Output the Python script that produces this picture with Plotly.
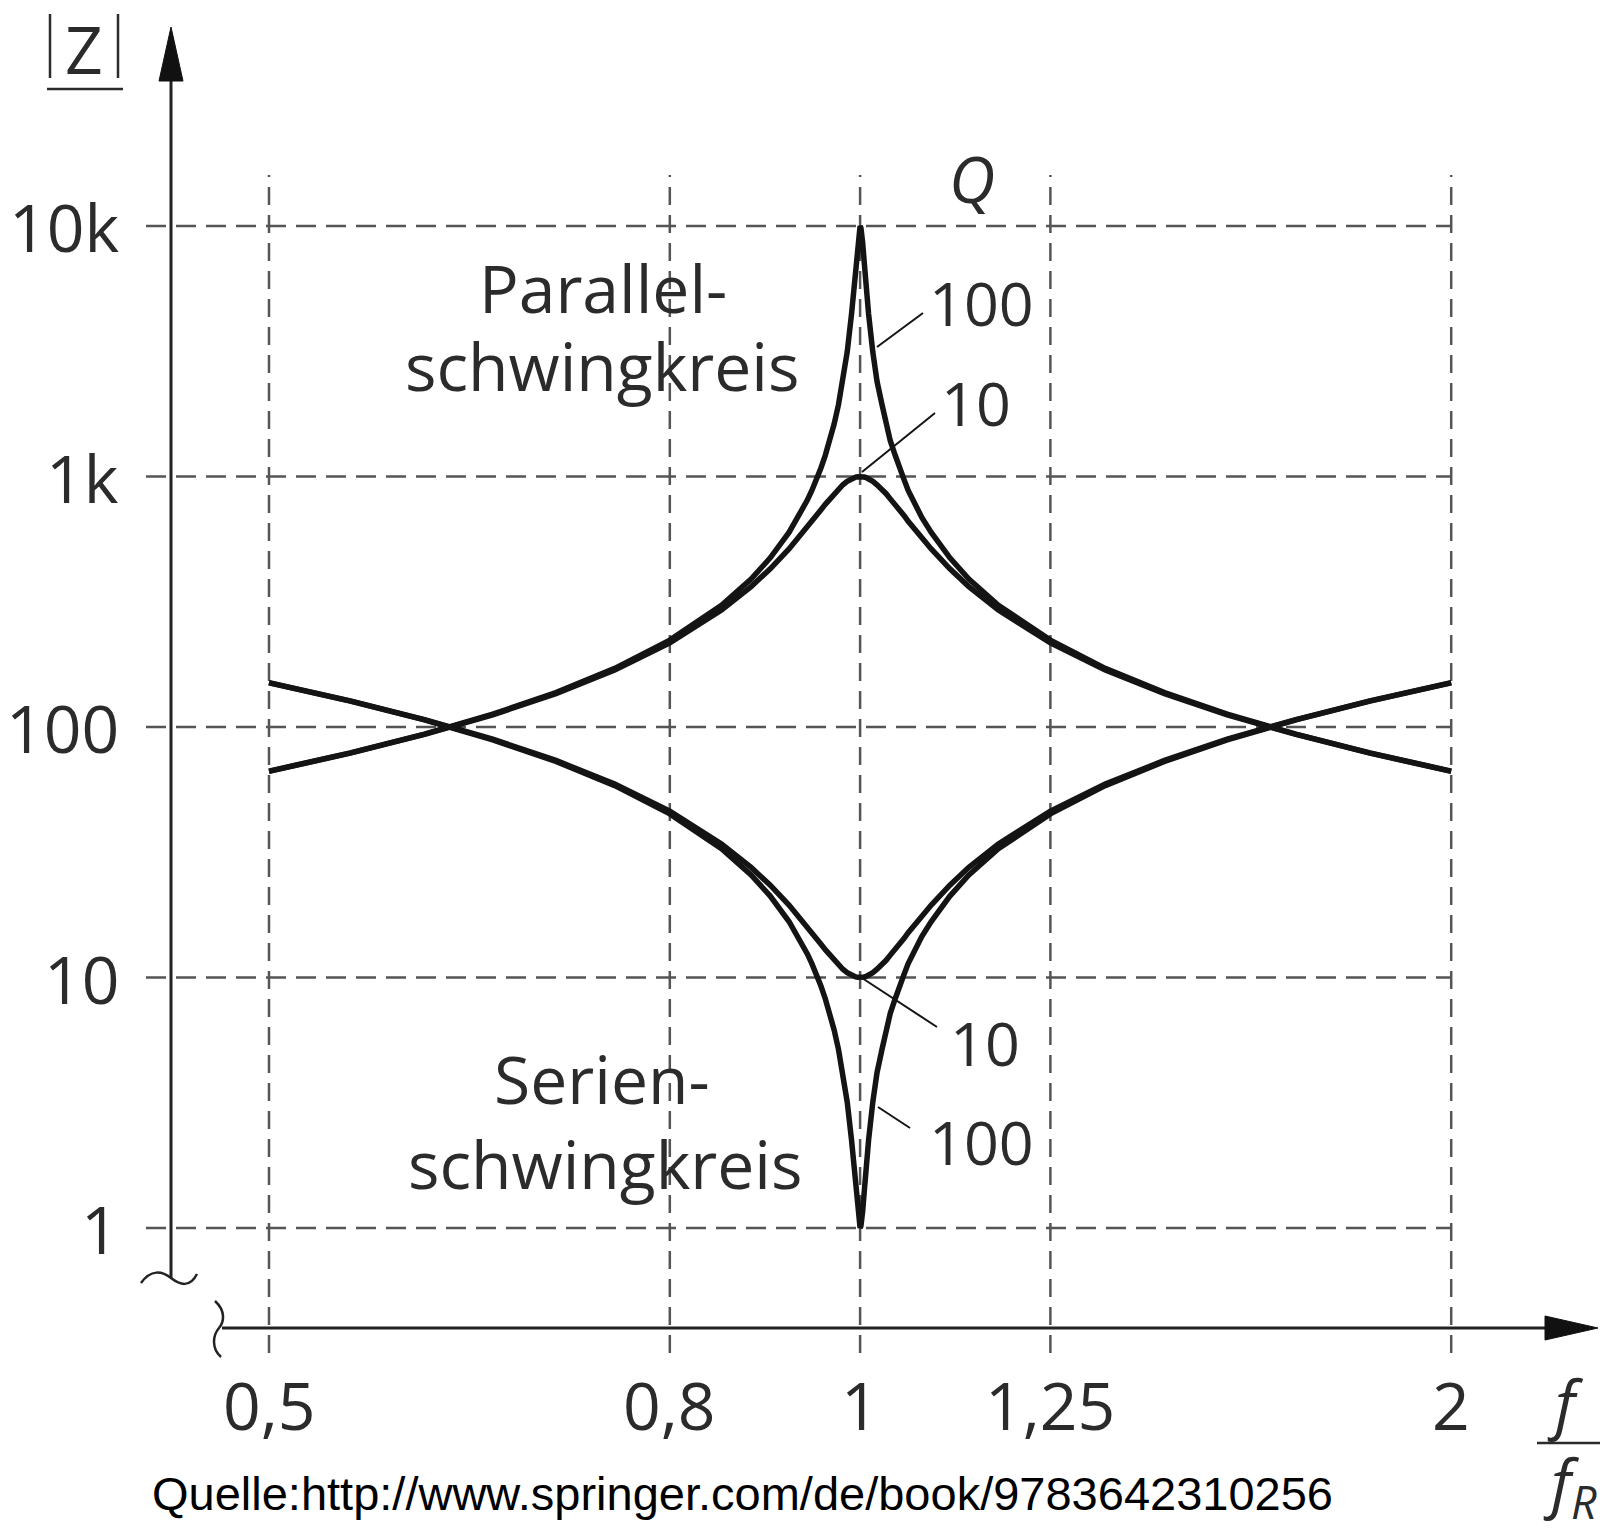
import math
import plotly.graph_objects as go

# ---------------- data ----------------
x_vals = [0.5, 0.55, 0.6, 0.65, 0.7, 0.75, 0.8, 0.85, 0.88, 0.9,
          0.92, 0.93, 0.94, 0.945, 0.95, 0.955, 0.96, 0.965, 0.97, 0.975,
          0.98, 0.985, 0.99, 0.993, 0.995, 0.997, 0.998, 0.999, 1.0,
          1.001, 1.002, 1.003, 1.005, 1.007, 1.01, 1.015, 1.02, 1.026, 1.031,
          1.036, 1.042, 1.047, 1.053, 1.058, 1.064, 1.075, 1.087, 1.111, 1.136,
          1.176, 1.25, 1.333, 1.429, 1.538, 1.667, 1.818, 2.0]

z_parallel_q100 = [66.67, 78.86, 93.72, 112.5, 137.2, 171.4, 222.2, 306.2, 389.8, 473.3,
                   597.9, 686.8, 804.9, 880.0, 969.8, 1079, 1215, 1389, 1619, 1937,
                   2402, 3141, 4454, 5799, 7062, 8571, 9285, 9806, 10000,
                   9806, 9285, 8571, 7062, 5799, 4454, 3141, 2402, 1937, 1619,
                   1389, 1215, 1079, 969.8, 880.0, 804.9, 686.8, 597.9, 473.3, 389.8,
                   306.2, 222.2, 171.4, 137.2, 112.5, 93.72, 78.86, 66.67]

z_parallel_q10 = [66.53, 78.62, 93.37, 111.8, 136.0, 169.0, 216.9, 292.9, 363.4, 428.1,
                  513.8, 566.9, 628.2, 662.1, 697.8, 735.5, 774.6, 814.3, 854.0, 892.1,
                  926.8, 957.0, 980.4, 990.3, 995.0, 998.2, 999.2, 999.8, 1000,
                  999.8, 999.2, 998.2, 995.0, 990.3, 980.4, 957.0, 926.8, 892.1, 854.0,
                  814.3, 774.6, 735.5, 697.8, 662.1, 628.2, 566.9, 513.8, 428.1, 363.4,
                  292.9, 216.9, 169.0, 136.0, 111.8, 93.37, 78.62, 66.53]

z_series_q100 = [150.0, 126.8, 106.7, 88.86, 72.87, 58.34, 45.01, 32.66, 25.66, 21.13,
                 16.73, 14.56, 12.42, 11.36, 10.31, 9.266, 8.228, 7.197, 6.175, 5.162,
                 4.163, 3.184, 2.245, 1.724, 1.416, 1.167, 1.077, 1.020, 1.000,
                 1.020, 1.077, 1.167, 1.416, 1.724, 2.245, 3.184, 4.163, 5.162, 6.175,
                 7.197, 8.228, 9.266, 10.31, 11.36, 12.42, 14.56, 16.73, 21.13, 25.66,
                 32.66, 45.01, 58.34, 72.87, 88.86, 106.7, 126.8, 150.0]

z_series_q10 = [150.3, 127.2, 107.1, 89.41, 73.54, 59.18, 46.10, 34.14, 27.52, 23.36,
                19.46, 17.64, 15.92, 15.10, 14.33, 13.60, 12.91, 12.28, 11.71, 11.21,
                10.79, 10.45, 10.20, 10.10, 10.05, 10.02, 10.01, 10.00, 10.00,
                10.00, 10.01, 10.02, 10.05, 10.10, 10.20, 10.45, 10.79, 11.21, 11.71,
                12.28, 12.91, 13.60, 14.33, 15.10, 15.92, 17.64, 19.46, 23.36, 27.52,
                34.14, 46.10, 59.18, 73.54, 89.41, 107.1, 127.2, 150.3]

x_ticks = [0.5, 0.8, 1.0, 1.25, 2.0]
x_tick_labels = ["0,5", "0,8", "1", "1,25", "2"]
y_ticks = [1, 10, 100, 1000, 10000]
y_tick_labels = ["1", "10", "100", "1k", "10k"]

# ---------------- layout geometry ----------------
W, H = 1605, 1533
ML, MR, MT, MB = 140, 5, 20, 173
XR = [-0.366726, 0.376807]
YR = [-0.52695, 4.82236]
PW, PH = W - ML - MR, H - MT - MB


def px(x):
    return (x - ML) / PW


def py(y):
    return (H - MB - y) / PH


def xp(v):
    return (math.log10(v) - XR[0]) / (XR[1] - XR[0])


FONT = "Open Sans"
TXT = "#2b2b2b"
GRID = "#555555"
AX = "#222222"
CURVE = "#141414"

fig = go.Figure()
for ys in [z_parallel_q100, z_parallel_q10, z_series_q100, z_series_q10]:
    fig.add_trace(go.Scatter(x=x_vals, y=ys, mode="lines",
                             line=dict(color=CURVE, width=5.5),
                             showlegend=False, hoverinfo="skip"))

shapes = []
# dashed grid lines
for xv in x_ticks:
    shapes.append(dict(type="line", xref="x", yref="paper", x0=xv, x1=xv,
                       y0=py(1353), y1=py(175), layer="below",
                       line=dict(color=GRID, width=2.5, dash="18px,10px")))
for yv in y_ticks:
    shapes.append(dict(type="line", xref="paper", yref="y", x0=px(146), x1=xp(x_ticks[-1]),
                       y0=yv, y1=yv, layer="below",
                       line=dict(color=GRID, width=2.5, dash="20px,10px")))

# axes
shapes.append(dict(type="line", xref="paper", yref="paper", x0=px(171), x1=px(171),
                   y0=py(1278), y1=py(75), line=dict(color=AX, width=3)))
shapes.append(dict(type="line", xref="paper", yref="paper", x0=px(222), x1=px(1550),
                   y0=py(1328), y1=py(1328), line=dict(color=AX, width=3)))

# arrow heads
shapes.append(dict(type="path", xref="paper", yref="paper",
                   path=f"M {px(171)} {py(27)} L {px(159)} {py(81)} L {px(183)} {py(81)} Z",
                   fillcolor="#111111", line=dict(color="#111111", width=1)))
shapes.append(dict(type="path", xref="paper", yref="paper",
                   path=f"M {px(1598)} {py(1328)} L {px(1545)} {py(1316)} L {px(1545)} {py(1340)} Z",
                   fillcolor="#111111", line=dict(color="#111111", width=1)))

# axis break marks
shapes.append(dict(type="path", xref="paper", yref="paper",
                   path=(f"M {px(141)} {py(1283)} C {px(151)} {py(1269)} {px(162)} {py(1271)} {px(171)} {py(1278)} "
                         f"C {px(180)} {py(1285)} {px(190)} {py(1288)} {px(197)} {py(1274)}"),
                   line=dict(color=AX, width=2.5)))
shapes.append(dict(type="path", xref="paper", yref="paper",
                   path=(f"M {px(215)} {py(1301)} C {px(226)} {py(1311)} {px(224)} {py(1322)} {px(219)} {py(1328)} "
                         f"C {px(213)} {py(1335)} {px(211)} {py(1348)} {px(221)} {py(1357)}"),
                   line=dict(color=AX, width=2.5)))

# |Z| bars and underline
for bx in (50, 118):
    shapes.append(dict(type="line", xref="paper", yref="paper", x0=px(bx), x1=px(bx),
                       y0=py(14), y1=py(78), line=dict(color=TXT, width=2.5)))
shapes.append(dict(type="line", xref="paper", yref="paper", x0=px(47), x1=px(123),
                   y0=py(89), y1=py(89), line=dict(color=TXT, width=2.5)))

# f / f_R fraction bar
shapes.append(dict(type="line", xref="paper", yref="paper", x0=px(1537), x1=px(1600),
                   y0=py(1443), y1=py(1443), line=dict(color=TXT, width=2.5)))

# leader lines for Q labels
for (xa, ya, xb, yb) in [(877, 347, 923, 313), (862, 472, 935, 413),
                         (862, 978, 937, 1027), (878, 1107, 910, 1128)]:
    shapes.append(dict(type="line", xref="paper", yref="paper", x0=px(xa), x1=px(xb),
                       y0=py(ya), y1=py(yb), line=dict(color=CURVE, width=2)))

ann = []
# y tick labels (annotation positions on log axes are given in log10 units)
for yv, lab in zip(y_ticks, y_tick_labels):
    ann.append(dict(xref="paper", yref="y", x=px(121), y=math.log10(yv), text=lab,
                    showarrow=False, xanchor="right", yanchor="middle",
                    font=dict(family=FONT, size=66, color=TXT)))
# x tick labels
for xv, lab in zip(x_ticks, x_tick_labels):
    ann.append(dict(xref="x", yref="paper", x=math.log10(xv), y=py(1404), text=lab,
                    showarrow=False, xanchor="center", yanchor="middle",
                    font=dict(family=FONT, size=66, color=TXT)))


def txt(x, y, s, size, family=FONT, color=TXT, anchor="center"):
    ann.append(dict(xref="paper", yref="paper", x=px(x), y=py(y), text=s, showarrow=False,
                    xanchor=anchor, yanchor="middle",
                    font=dict(family=family, size=size, color=color)))


txt(84, 48, "Z", 66)
txt(603, 287, "Parallel-", 66)
txt(602, 365, "schwingkreis", 66)
txt(602, 1078, "Serien-", 66)
txt(605, 1163, "schwingkreis", 66)
txt(972, 178, "<i>Q</i>", 64)
txt(981, 302, "100", 61)
txt(976, 402, "10", 61)
txt(985, 1042, "10", 61)
txt(981, 1141, "100", 61)
txt(1565, 1402, "<i>f</i>", 64)
txt(1570, 1485, "<i>f</i><sub><i>R</i></sub>", 64)
txt(742, 1493, "Quelle:http://www.springer.com/de/book/9783642310256", 47,
    family="Liberation Sans, Arial, sans-serif", color="#000000")

fig.update_layout(
    width=W, height=H, autosize=False,
    margin=dict(l=ML, r=MR, t=MT, b=MB, pad=0),
    paper_bgcolor="white", plot_bgcolor="white",
    xaxis=dict(type="log", range=XR, visible=False, showgrid=False, zeroline=False),
    yaxis=dict(type="log", range=YR, visible=False, showgrid=False, zeroline=False),
    shapes=shapes, annotations=ann, showlegend=False,
)

fig.write_html("out.html")
